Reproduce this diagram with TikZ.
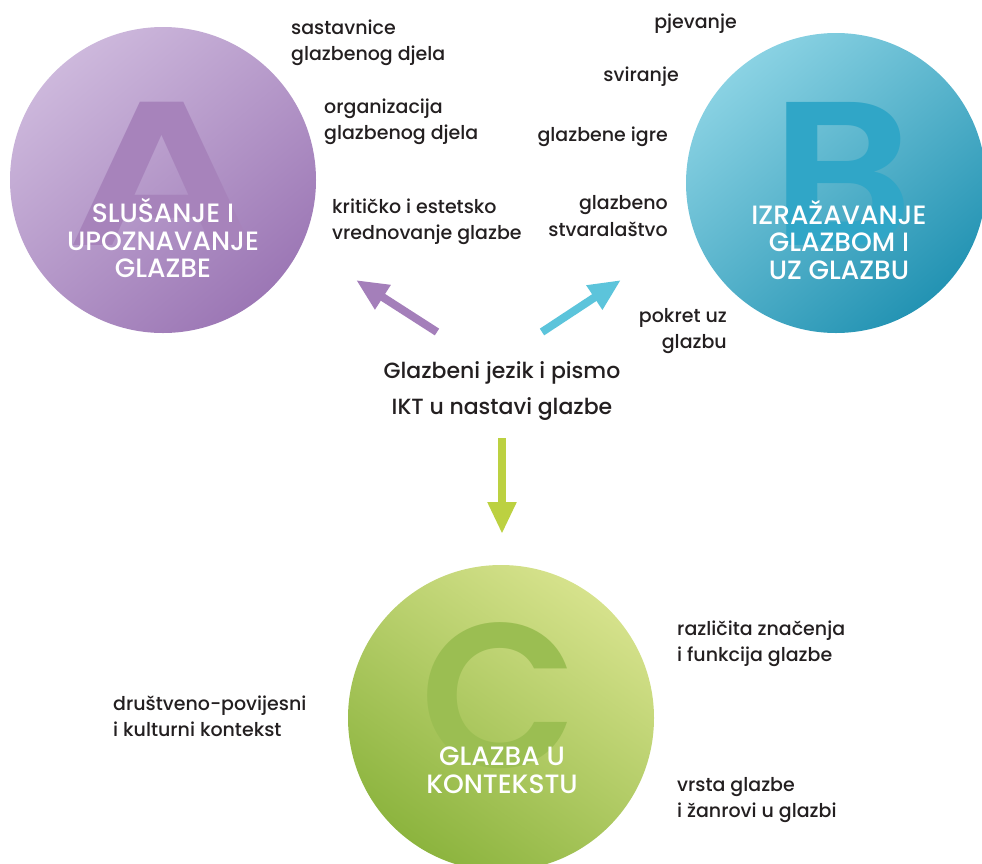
\documentclass[tikz,border=0pt]{standalone}
\usepackage{fontspec}
\setmainfont{Poppins}[UprightFont={* Medium},BoldFont={* SemiBold}]
\usetikzlibrary{arrows.meta}
\definecolor{txt}{HTML}{231F20}
\definecolor{aLight}{HTML}{CDB8DC}
\definecolor{aDark}{HTML}{9C77B5}
\definecolor{aLetter}{HTML}{A783BB}
\definecolor{bLight}{HTML}{8AD2E3}
\definecolor{bDark}{HTML}{2393B3}
\definecolor{bLetter}{HTML}{30A6C7}
\definecolor{cLight}{HTML}{D6E28C}
\definecolor{cDark}{HTML}{8CB43E}
\definecolor{cLetter}{HTML}{9BBE52}
\definecolor{arrA}{HTML}{A47FBA}
\definecolor{arrB}{HTML}{5CC4DB}
\definecolor{arrC}{HTML}{BCD141}
\begin{document}
\begin{tikzpicture}[x=1pt,y=-1pt,
  lbl/.style={text=txt,font=\fontsize{19}{26.5}\selectfont,inner sep=0pt},
  lbll/.style={lbl,anchor=west,align=left},
  lblr/.style={lbl,anchor=east,align=right},
  circlbl/.style={text=white,font=\fontsize{26.5}{27.5}\selectfont,align=center,inner sep=0pt},
  bigletter/.style={inner sep=0pt,anchor=base},
  arr/.style={line width=8pt,-{Triangle[width=27pt,length=32pt]}}]
\useasboundingbox (0,0) rectangle (982,863);
\begin{scope}
\clip (0,0) rectangle (982,863);
% circles
\shade[shading=axis,top color=aLight,bottom color=aDark,shading angle=40] (163,180) circle[radius=153];
\shade[shading=axis,top color=bLight,bottom color=bDark,shading angle=40] (836,183) circle[radius=150];
\shade[shading=axis,top color=cLight,bottom color=cDark,shading angle=-35] (501,718) circle[radius=153];
\end{scope}
% big letters
\node[bigletter,text=aLetter,font=\fontsize{205}{205}\bfseries\selectfont,xscale=1.3] (bigA) at (162,245) {A};
\node[bigletter,text=bLetter,font=\fontsize{205}{205}\bfseries\selectfont,xscale=1.08] (bigB) at (843,245) {B};
\node[bigletter,text=cLetter,font=\fontsize{205}{205}\bfseries\selectfont] (bigC) at (499,767) {C};
% circle labels
\node[circlbl] (labA) at (163,238) {SLUŠANJE I\\UPOZNAVANJE\\GLAZBE};
\node[circlbl] (labB) at (839,240) {IZRAŽAVANJE\\GLAZBOM I\\UZ GLAZBU};
\node[circlbl] (labC) at (502,770) {GLAZBA U\\KONTEKSTU};
% A items
\node[lbll] (a1) at (291,43) {sastavnice\\glazbenog djela};
\node[lbll] (a2) at (324,122) {organizacija\\glazbenog djela};
\node[lbll] (a3) at (332,222) {kritičko i estetsko\\vrednovanje glazbe};
% B items
\node[lblr] (b1) at (737,24) {pjevanje};
\node[lblr] (b2) at (679,77) {sviranje};
\node[lblr] (b3) at (668,137) {glazbene igre};
\node[lblr] (b4) at (668,216) {glazbeno\\stvaralaštvo};
\node[lblr] (b5) at (727,331) {pokret uz\\glazbu};
% C items
\node[lbll] (c1) at (677,644) {različita značenja\\i funkcija glazbe};
\node[lbll] (c2) at (677,800) {vrsta glazbe\\i žanrovi u glazbi};
\node[lbll] (c3) at (113,716) {društveno-povijesni\\i kulturni kontekst};
% centre
\node[text=txt,font=\fontsize{22}{36}\selectfont,align=center,inner sep=0pt] (mid) at (502,391) {Glazbeni jezik i pismo\\IKT u nastavi glazbe};
% arrows
\coordinate (aS) at (437,332); \coordinate (aE) at (356,280);
\coordinate (bS) at (542,332); \coordinate (bE) at (621,280);
\coordinate (cS) at (502,438); \coordinate (cE) at (502,534);
\draw[arr,arrA] (aS) -- (aE);
\draw[arr,arrB] (bS) -- (bE);
\draw[arr,arrC] (cS) -- (cE);
\end{tikzpicture}
\end{document}
